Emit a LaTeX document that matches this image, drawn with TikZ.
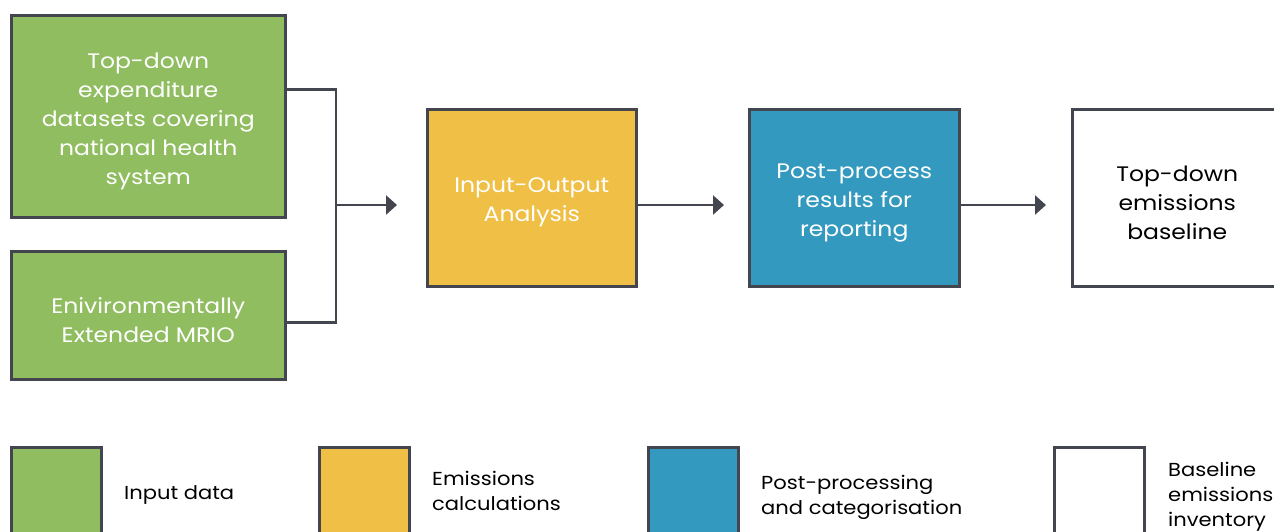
\documentclass[tikz,border=0pt]{standalone}
\usepackage{fontspec}
\setmainfont{Poppins}[FakeStretch=1.12]
\usetikzlibrary{arrows.meta,calc}
\definecolor{gfill}{HTML}{8FBD5F}
\definecolor{yfill}{HTML}{F0BF45}
\definecolor{bfill}{HTML}{3399BE}
\definecolor{edge}{HTML}{43464F}
\newcommand\topgap[1]{\raisebox{0pt}[\dimexpr\height+10pt\relax]{#1}}
\tikzset{
  box/.style={draw=edge, line width=2.5pt, anchor=north west, align=center,
    font=\fontsize{21}{29}\selectfont, inner sep=0pt},
  gbox/.style={box, fill=gfill, text=white, minimum width=274, minimum height=202},
  ybox/.style={box, fill=yfill, text=white, minimum width=209, minimum height=177},
  bbox/.style={box, fill=bfill, text=white, minimum width=210, minimum height=177},
  wbox/.style={box, fill=white, text=black, minimum width=210, minimum height=177},
  legbox/.style={draw=edge, line width=2.5pt, anchor=north west, minimum width=90, minimum height=90, inner sep=0pt},
  legtext/.style={anchor=west, align=left, inner sep=0pt, text=black, font=\fontsize{18.8}{25}\selectfont},
  link/.style={draw=edge, line width=2.5pt},
  arr/.style={link, -{Triangle[length=11pt,width=19pt]}},
}
\begin{document}
\begin{tikzpicture}[x=1pt,y=-1pt]
\clip (0,0) rectangle (1274,531);
\fill[white] (0,0) rectangle (1274,531);
% main boxes
\node[gbox] (td) at (10,14) {\topgap{Top-down}\\expenditure\\datasets covering\\national health\\system};
\node[gbox, minimum height=128] (mrio) at (10,250) {\topgap{Enivironmentally}\\Extended MRIO};
\node[ybox] (io) at (426,108) {\topgap{Input-Output}\\Analysis};
\node[bbox] (pp) at (748,108) {\topgap{Post-process}\\results for\\reporting};
\node[wbox] (bl) at (1071,108) {\topgap{Top-down}\\emissions\\baseline};
% connectors
\coordinate (j) at (336,205);
\draw[link] ([yshift=27pt]td.east) -| (j) |- ([yshift=-7pt]mrio.east);
\draw[arr, shorten >=29pt] (j) -- (io.west |- j);
\draw[arr, shorten >=24pt] (io.east |- j) -- (pp.west |- j);
\draw[arr, shorten >=25pt] (pp.east |- j) -- (bl.west |- j);
% legend
\node[legbox, fill=gfill] (lg) at (10,446) {};
\node[legbox, fill=yfill] (ly) at (318,446) {};
\node[legbox, fill=bfill] (lb) at (647,446) {};
\node[legbox, fill=white] (lw) at (1053,446) {};
\node[legtext] (tg) at (124,495) {Input data};
\node[legtext] (ty) at (432,491) {Emissions\\calculations};
\node[legtext] (tb) at (761,497) {Post-processing\\and categorisation};
\node[legtext] (tw) at (1168,496.5) {Baseline\\emissions\\inventory};
\end{tikzpicture}
\end{document}
